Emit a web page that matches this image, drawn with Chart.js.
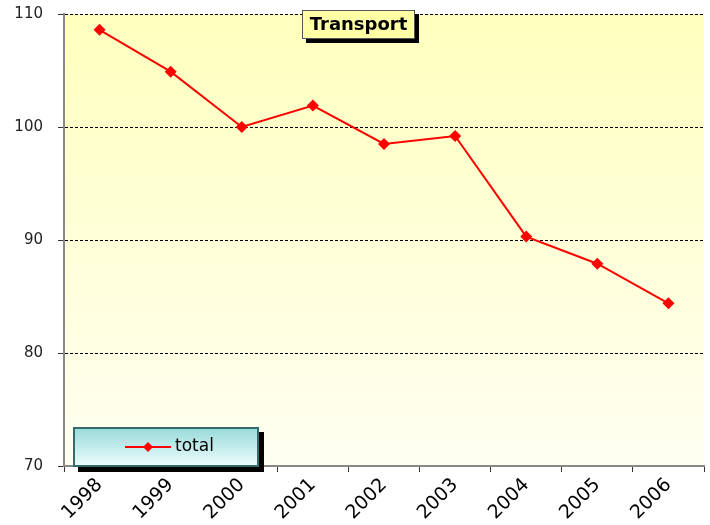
<!DOCTYPE html>
<html><head><meta charset="utf-8">
<script src="https://cdn.jsdelivr.net/npm/chart.js@4/dist/chart.umd.min.js"></script>
<style>html,body{margin:0;padding:0;background:#fff}#wrap{width:710px;height:525px}</style>
</head><body><div id="wrap"><canvas id="c" width="710" height="525"></canvas></div>
<script>
const years = ["1998","1999","2000","2001","2002","2003","2004","2005","2006"];
const totalValues = [108.6, 104.9, 100.0, 101.9, 98.5, 99.2, 90.3, 87.9, 84.4];
const yTicks = [70, 80, 90, 100, 110];
const chartTitle = "Transport";
const seriesName = "total";

const FONT = "'DejaVu Sans', Verdana, sans-serif";

const decor = {
  id: 'decor',
  beforeDraw(chart) {
    const {ctx, chartArea: a} = chart;
    const g = ctx.createLinearGradient(0, a.top, 0, a.bottom);
    g.addColorStop(0, '#FFFFBE');
    g.addColorStop(1, '#FFFFF2');
    ctx.save();
    ctx.fillStyle = g;
    ctx.fillRect(a.left, a.top, a.right - a.left, a.bottom - a.top);
    ctx.restore();
  },
  afterDraw(chart) {
    const {ctx} = chart;
    ctx.save();
    // title box
    const tx = 302, ty = 10, tw = 113, th = 29;
    ctx.fillStyle = '#000';
    ctx.fillRect(tx + 4, ty + 4, tw, th);
    ctx.fillStyle = '#FFFFA6';
    ctx.fillRect(tx, ty, tw, th);
    ctx.strokeStyle = '#555';
    ctx.lineWidth = 1;
    ctx.strokeRect(tx + 0.5, ty + 0.5, tw - 1, th - 1);
    ctx.fillStyle = '#000';
    ctx.font = "bold 18px " + FONT;
    ctx.textAlign = 'center';
    ctx.textBaseline = 'middle';
    ctx.fillText(chartTitle, tx + tw / 2, ty + th / 2 + 1);

    // legend box
    const lx = 73, ly = 427, lw = 186, lh = 40;
    ctx.fillStyle = '#000';
    ctx.fillRect(lx + 5, ly + 5, lw, lh);
    const lg = ctx.createLinearGradient(0, ly, 0, ly + lh);
    lg.addColorStop(0, '#97DADA');
    lg.addColorStop(1, '#F0FDFD');
    ctx.fillStyle = lg;
    ctx.fillRect(lx, ly, lw, lh);
    ctx.strokeStyle = '#356B6B';
    ctx.lineWidth = 2;
    ctx.strokeRect(lx + 1, ly + 1, lw - 2, lh - 2);
    const cy = ly + 20;
    ctx.strokeStyle = '#FF0000';
    ctx.lineWidth = 2;
    ctx.beginPath();
    ctx.moveTo(125, cy); ctx.lineTo(171, cy); ctx.stroke();
    ctx.fillStyle = '#FF0000';
    ctx.beginPath();
    ctx.moveTo(148, cy - 5); ctx.lineTo(153, cy); ctx.lineTo(148, cy + 5); ctx.lineTo(143, cy); ctx.closePath();
    ctx.fill();
    ctx.fillStyle = '#000';
    ctx.font = "17px " + FONT;
    ctx.textAlign = 'left';
    ctx.textBaseline = 'middle';
    ctx.fillText(seriesName, 175, cy);
    ctx.restore();
  }
};

function zeroPad(s) { s.paddingTop = 0; s.paddingBottom = 0; s.paddingLeft = 0; s.paddingRight = 0; }
const lastTickHidden = c => (c.index >= years.length ? 'rgba(0,0,0,0)' : '#333');

new Chart(document.getElementById('c'), {
  type: 'line',
  data: {
    labels: years,
    datasets: [{
      label: seriesName,
      data: totalValues,
      borderColor: '#FF0000',
      backgroundColor: '#FF0000',
      borderWidth: 2,
      pointStyle: 'rectRot',
      pointRadius: 6,
      pointHoverRadius: 6,
      pointBorderWidth: 0,
      tension: 0
    }]
  },
  options: {
    responsive: false,
    animation: false,
    devicePixelRatio: 1,
    layout: {padding: {top: 14, right: 5, left: 0, bottom: 0}},
    plugins: {legend: {display: false}, title: {display: false}, tooltip: {enabled: false}},
    scales: {
      x: {
        offset: true,
        afterFit(s) { s.height = 59; zeroPad(s); },
        grid: {offset: true, drawOnChartArea: false, drawTicks: true, tickLength: 6,
               color: lastTickHidden, tickColor: lastTickHidden, lineWidth: 1},
        border: {display: true, color: '#888', width: 2},
        ticks: {
          maxRotation: 45, minRotation: 45, autoSkip: false,
          color: '#000', padding: 2,
          font: {family: FONT, size: 19}
        }
      },
      y: {
        min: 70, max: 110,
        afterFit(s) { s.width = 64; zeroPad(s); },
        afterBuildTicks(s) { s.ticks = yTicks.map(v => ({value: v})); },
        grid: {color: '#000', lineWidth: 1, tickLength: 6, tickColor: '#333', tickBorderDash: []},
        border: {display: true, color: '#888', width: 2, dash: [3, 2]},
        ticks: {
          color: '#222', padding: 15,
          font: {family: FONT, size: 15}
        }
      }
    }
  },
  plugins: [decor]
});
</script>
</body></html>
